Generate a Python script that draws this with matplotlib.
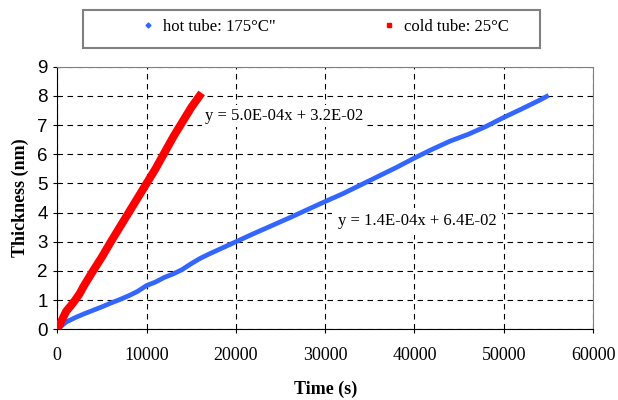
import matplotlib
matplotlib.use("Agg")
from matplotlib import pyplot as plt
from matplotlib.patches import Rectangle
from matplotlib.lines import Line2D

# hot tube: 175 C  (time in s, thickness in nm)
hot_t = [0, 1000, 2000, 3000, 4000, 5000, 6000, 7000, 8000, 9000, 10000,
         11000, 12000, 13000, 14000, 15000, 16000, 17000, 18000, 19000, 20000,
         22000, 24000, 26000, 28000, 30000, 32000, 34000, 36000, 38000, 40000,
         42000, 44000, 46000, 48000, 50000, 52000, 54000, 54800]
hot_d = [0.00, 0.25, 0.40, 0.53, 0.65, 0.77, 0.90, 1.02, 1.15, 1.30, 1.50,
         1.62, 1.78, 1.90, 2.05, 2.25, 2.43, 2.58, 2.72, 2.86, 3.00,
         3.28, 3.55, 3.82, 4.10, 4.38, 4.65, 4.95, 5.25, 5.55, 5.87,
         6.17, 6.45, 6.68, 6.95, 7.26, 7.55, 7.85, 7.98]

# cold tube: 25 C
cold_t = [0, 500, 1000, 1500, 2000, 2500, 3000, 4000, 5000, 6000, 7000,
          8000, 9000, 10000, 11000, 12000, 13000, 14000, 15000, 16170]
cold_d = [0.02, 0.30, 0.62, 0.80, 1.00, 1.22, 1.50, 2.00, 2.48, 3.00, 3.50,
          4.00, 4.50, 5.00, 5.50, 6.05, 6.60, 7.10, 7.60, 8.10]

xticks = [0, 10000, 20000, 30000, 40000, 50000, 60000]
yticks = [0, 1, 2, 3, 4, 5, 6, 7, 8, 9]

fit_cold = "y = 5.0E-04x + 3.2E-02"
fit_hot = "y = 1.4E-04x + 6.4E-02"

serif = ["Liberation Serif", "DejaVu Serif"]
sans = ["Liberation Sans", "DejaVu Sans"]

fig = plt.figure(figsize=(6.18, 4.0), dpi=100)
ax = fig.add_axes([57.3/618, 1-329.3/400, (593-57.3)/618, (329.3-66.7)/400])

ax.plot(hot_t, hot_d, color="#3366FF", lw=3.4, solid_capstyle="projecting", zorder=4)
ax.plot(cold_t, cold_d, color="#FF0000", lw=5.8, solid_capstyle="butt", zorder=5)

ax.set_xlim(0, 60000)
ax.set_ylim(0, 9)
ax.set_xticks(xticks)
ax.set_yticks(yticks)
ax.set_xticklabels([str(v) for v in xticks], family=serif, fontsize=13)
ax.set_yticklabels([str(v) for v in yticks], family=sans, fontsize=13.5)
ax.tick_params(axis="x", direction="out", length=3, pad=10)
ax.tick_params(axis="y", direction="out", length=3, pad=4)

ax.set_axisbelow(True)
ax.grid(True, color="black", linestyle=(0, (5, 4)), linewidth=0.8)

for s in ["top", "right"]:
    ax.spines[s].set_color("#808080")
for s in ["left", "bottom"]:
    ax.spines[s].set_color("black")

ax.set_xlabel("Time (s)", family=serif, fontsize=13, fontweight="bold", labelpad=12)
ax.set_ylabel("Thickness (nm)", family=serif, fontsize=13, fontweight="bold", labelpad=6)

ax.text(16560, 7.32, fit_cold, family=serif, fontsize=12, ha="left", va="center",
        bbox=dict(facecolor="white", edgecolor="none", pad=2), zorder=3)
ax.text(31400, 3.71, fit_hot, family=serif, fontsize=12, ha="left", va="center",
        bbox=dict(facecolor="white", edgecolor="none", pad=4), zorder=3)

# legend box across the top
fig.patches.append(Rectangle((83/618, 1-48/400), 457/618, 38/400,
                             transform=fig.transFigure, facecolor="white",
                             edgecolor="#808080", lw=1.5))
handles = [Line2D([], [], color="#3366FF", marker="D", ms=2.5, ls="none"),
           Line2D([], [], color="#FF0000", marker="s", ms=3.5, ls="none")]
labels = ["hot tube: 175°C\"", "cold tube: 25°C"]
fig.legend(handles, labels, loc="center", bbox_to_anchor=(0.525, 0.9325),
           ncol=2, frameon=False, prop={"family": serif, "size": 12},
           handlelength=1, handletextpad=0.4, columnspacing=6.3, borderpad=0)

fig.savefig("out.png", dpi=100)
